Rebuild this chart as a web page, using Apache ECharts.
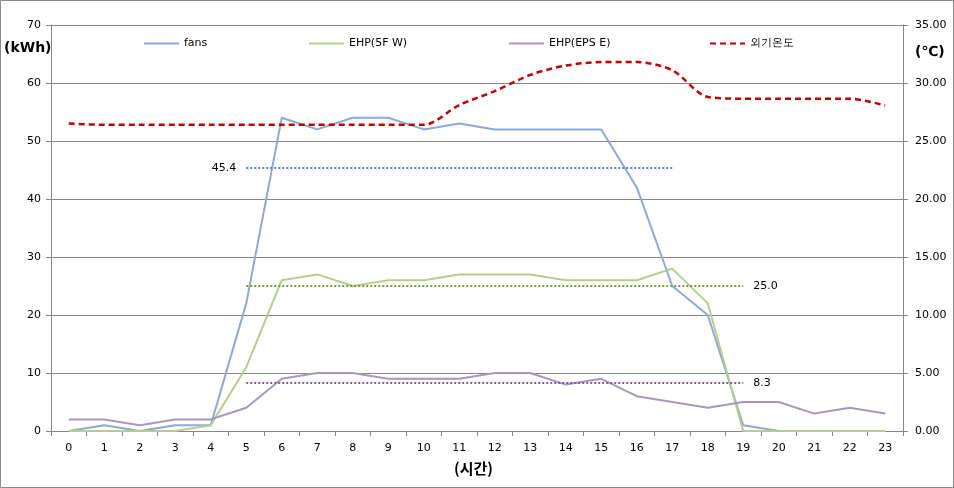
<!DOCTYPE html>
<html>
<head>
<meta charset="utf-8">
<script src="https://cdn.jsdelivr.net/npm/echarts@6/dist/echarts.min.js"></script>
<style>
html,body{margin:0;padding:0;background:#fff;}
#chart{width:954px;height:488px;}
</style>
</head>
<body>
<div id="chart"></div>
<script>
var hours = ['0','1','2','3','4','5','6','7','8','9','10','11','12','13','14','15','16','17','18','19','20','21','22','23'];
var fans = [0,1,0,1,1,22,54,52,54,54,52,53,52,52,52,52,42,25,20,1,0,0,0,0];
var ehp5fw = [0,0,0,0,1,11,26,27,25,26,26,27,27,27,26,26,26,28,22,0,0,0,0,0];
var ehpEpsE = [2,2,1,2,2,4,9,10,10,9,9,9,10,10,8,9,6,5,4,5,5,3,4,3];
var outdoorTemp = [26.5,26.4,26.4,26.4,26.4,26.4,26.4,26.4,26.4,26.4,26.4,28.1,29.3,30.7,31.5,31.8,31.8,31.1,28.8,28.65,28.65,28.65,28.65,28.05];
var avgFans = 45.4, avgFansRange = ['5','17'];
var avg5fw = 25.0, avg5fwRange = ['5','19'];
var avgEps = 8.3, avgEpsRange = ['5','19'];
var seriesNames = ['fans','EHP(5F W)','EHP(EPS E)','외기온도'];

var FONT = 'DejaVu Sans';
var chart = echarts.init(document.getElementById('chart'));
function avgLine(val, range, color, pos) {
  return {
    symbol: 'none',
    silent: true,
    lineStyle: {type: 'dotted', color: color, width: 2},
    label: {show: true, position: pos, formatter: val.toFixed(1), color: '#000', fontFamily: FONT, fontSize: 11, distance: 10},
    data: [[{coord: [range[0], val]}, {coord: [range[1], val]}]]
  };
}
function legendAt(name, left) {
  return {
    data: [name], left: left, top: 33, itemWidth: 35, itemHeight: 12, itemGap: 0,
    itemStyle: {opacity: 0},
    textStyle: {fontFamily: FONT, fontSize: 11, color: '#000'}
  };
}
var option = {
  animation: false,
  backgroundColor: '#fff',
  legend: [
    legendAt(seriesNames[0], 138),
    legendAt(seriesNames[1], 303),
    legendAt(seriesNames[2], 503),
    legendAt(seriesNames[3], 704)
  ],
  grid: {left: 51, right: 51, top: 25, bottom: 57},
  graphic: [
    {type: 'rect', shape: {x: 0.5, y: 0.5, width: 953, height: 487}, style: {fill: 'none', stroke: '#888', lineWidth: 1}, silent: true},
    {type: 'text', left: 4, top: 41, style: {text: '(kWh)', font: 'bold 14px "DejaVu Sans"', fill: '#000'}},
    {type: 'text', left: 915, top: 45, style: {text: '(℃)', font: 'bold 14px "DejaVu Sans"', fill: '#000'}},
    {type: 'text', left: 454, top: 461, style: {text: '(시간)', font: 'bold 15px "Noto Sans CJK KR"', fill: '#000'}}
  ],
  xAxis: {
    type: 'category', data: hours, boundaryGap: true,
    axisLine: {lineStyle: {color: '#868686', width: 1}},
    axisTick: {show: true, interval: 0, length: 5, lineStyle: {color: '#868686'}},
    axisLabel: {interval: 0, fontFamily: FONT, fontSize: 11, color: '#000', margin: 12}
  },
  yAxis: [
    {
      type: 'value', min: 0, max: 70, interval: 10, position: 'left',
      axisLine: {show: true, lineStyle: {color: '#868686'}},
      axisTick: {show: true, length: 5, lineStyle: {color: '#868686'}},
      axisLabel: {fontFamily: FONT, fontSize: 11, color: '#000', margin: 10},
      splitLine: {show: true, lineStyle: {color: '#868686', width: 1}}
    },
    {
      type: 'value', min: 0, max: 35, interval: 5, position: 'right',
      axisLine: {show: true, lineStyle: {color: '#868686'}},
      axisTick: {show: true, length: 5, lineStyle: {color: '#868686'}},
      axisLabel: {fontFamily: FONT, fontSize: 11, color: '#000', margin: 12, formatter: function (v) { return v.toFixed(2); }},
      splitLine: {show: false}
    }
  ],
  series: [
    {
      name: seriesNames[0], type: 'line', data: fans, symbol: 'none', yAxisIndex: 0,
      lineStyle: {color: '#8EA9D5', width: 2}, itemStyle: {color: '#8EA9D5'},
      markLine: avgLine(avgFans, avgFansRange, '#5B86C5', 'start')
    },
    {
      name: seriesNames[1], type: 'line', data: ehp5fw, symbol: 'none', yAxisIndex: 0,
      lineStyle: {color: '#B5CE8E', width: 2}, itemStyle: {color: '#B5CE8E'},
      markLine: avgLine(avg5fw, avg5fwRange, '#7A9A3A', 'end')
    },
    {
      name: seriesNames[2], type: 'line', data: ehpEpsE, symbol: 'none', yAxisIndex: 0,
      lineStyle: {color: '#A597C0', width: 2}, itemStyle: {color: '#A597C0'},
      markLine: avgLine(avgEps, avgEpsRange, '#7A5FA0', 'end')
    },
    {
      name: seriesNames[3], type: 'line', data: outdoorTemp, symbol: 'none', yAxisIndex: 1, smooth: 0.3,
      lineStyle: {color: '#C00000', width: 2.5, type: [6, 4]}, itemStyle: {color: '#C00000'}
    }
  ]
};
chart.setOption(option);
</script>
</body>
</html>
